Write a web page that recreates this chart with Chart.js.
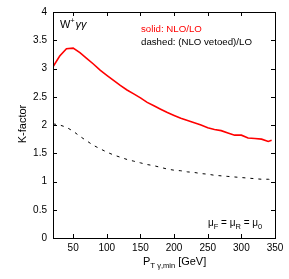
<!DOCTYPE html>
<html>
<head>
<meta charset="utf-8">
<script src="https://cdn.jsdelivr.net/npm/chart.js@4.4.1/dist/chart.umd.min.js"></script>
<style>
  html, body { margin: 0; padding: 0; background: #fff; }
  #wrap { width: 289px; height: 279px; }
</style>
</head>
<body>
<div id="wrap"><canvas id="kChart" width="289" height="279"></canvas></div>
<script>
var ptMin = [20, 30, 40, 50, 60, 70, 80, 90, 100, 110, 120, 130, 140, 150, 160, 170, 180,
  190, 200, 210, 220, 230, 240, 250, 260, 270, 280, 290, 300, 310, 320, 330, 340, 345];
var kSolid = [3.03, 3.22, 3.35, 3.36, 3.28, 3.18, 3.08, 2.97, 2.88, 2.79, 2.70, 2.62, 2.55, 2.48, 2.40, 2.34, 2.28,
  2.22, 2.17, 2.12, 2.08, 2.04, 2.00, 1.95, 1.92, 1.90, 1.86, 1.82, 1.82, 1.77, 1.76, 1.75, 1.71, 1.73];
var kDashed = [2.02, 2.00, 1.96, 1.89, 1.80, 1.72, 1.64, 1.58, 1.52, 1.47, 1.43, 1.39, 1.36, 1.33, 1.30, 1.28, 1.25,
  1.22, 1.20, 1.19, 1.17, 1.16, 1.14, 1.13, 1.11, 1.10, 1.09, 1.08, 1.07, 1.06, 1.05, 1.04, 1.04, 1.03];
var xTicks = [50, 100, 150, 200, 250, 300, 350];
var yTicks = [0, 0.5, 1, 1.5, 2, 2.5, 3, 3.5, 4];

var FONT = '"Liberation Sans", Arial, Helvetica, sans-serif';

function toPoints(xs, ys) {
  var pts = [];
  for (var i = 0; i < xs.length; i++) {
    pts.push({x: xs[i], y: ys[i]});
  }
  return pts;
}

// gnuplot style frame: box, inward ticks on all sides, text labels
var framePlugin = {
  id: 'frame',
  afterDraw: function(chart) {
    var ctx = chart.ctx;
    var a = chart.chartArea;
    var xs = chart.scales.x, ys = chart.scales.y;
    ctx.save();
    ctx.strokeStyle = '#000';
    ctx.lineWidth = 1;
    ctx.strokeRect(Math.round(a.left) + 0.5, Math.round(a.top) + 0.5,
      Math.round(a.right - a.left), Math.round(a.bottom - a.top));
    ctx.beginPath();
    xTicks.forEach(function(v) {
      var px = Math.round(xs.getPixelForValue(v)) + 0.5;
      ctx.moveTo(px, a.bottom); ctx.lineTo(px, a.bottom - 4);
      ctx.moveTo(px, a.top); ctx.lineTo(px, a.top + 4);
    });
    yTicks.forEach(function(v) {
      var py = Math.round(ys.getPixelForValue(v)) + 0.5;
      ctx.moveTo(a.left, py); ctx.lineTo(a.left + 4, py);
      ctx.moveTo(a.right, py); ctx.lineTo(a.right - 4, py);
    });
    ctx.stroke();

    ctx.fillStyle = '#000';
    ctx.textBaseline = 'alphabetic';
    ctx.textAlign = 'left';

    // process label
    ctx.font = '11px ' + FONT;
    ctx.fillText('W', 60, 28);
    var w = ctx.measureText('W').width;
    ctx.font = '7px ' + FONT;
    ctx.fillText('+', 60 + w, 23);
    ctx.font = 'italic 11px ' + FONT;
    ctx.fillText('\u03b3\u03b3', 60 + w + 5, 28);

    // legend text
    ctx.font = '9.7px ' + FONT;
    ctx.fillStyle = '#ff0000';
    ctx.fillText('solid: NLO/LO', 141, 32);
    ctx.fillStyle = '#000';
    ctx.fillText('dashed: (NLO vetoed)/LO', 141, 45);

    // scale label
    var x0 = 208, yb = 226;
    var parts = [['\u03bc', 'F', ' = '], ['\u03bc', 'R', ' = '], ['\u03bc', '0', '']];
    parts.forEach(function(p) {
      ctx.font = '10px ' + FONT;
      ctx.fillText(p[0], x0, yb);
      x0 += ctx.measureText(p[0]).width;
      ctx.font = '7.5px ' + FONT;
      ctx.fillText(p[1], x0, yb + 3);
      x0 += ctx.measureText(p[1]).width;
      ctx.font = '10px ' + FONT;
      ctx.fillText(p[2], x0, yb);
      x0 += ctx.measureText(p[2]).width;
    });

    // x axis title
    var xb = 265, xt = 143;
    ctx.font = '11px ' + FONT;
    ctx.fillText('P', xt, xb);
    xt += ctx.measureText('P').width;
    ctx.font = '8px ' + FONT;
    ctx.fillText('T', xt, xb + 3);
    xt += ctx.measureText('T').width + 2;
    ctx.font = '7.5px ' + FONT;
    ctx.fillText('\u03b3,min', xt, xb + 3);
    xt += ctx.measureText('\u03b3,min').width + 3;
    ctx.font = '11px ' + FONT;
    ctx.fillText('[GeV]', xt, xb);

    // y axis title
    ctx.translate(26, 124);
    ctx.rotate(-Math.PI / 2);
    ctx.textAlign = 'center';
    ctx.font = '11px ' + FONT;
    ctx.fillText('K-factor', 0, 0);
    ctx.restore();
  }
};

var ctx = document.getElementById('kChart');
var kChart = new Chart(ctx, {
  type: 'line',
  data: {
    datasets: [
      {
        label: 'solid: NLO/LO',
        data: toPoints(ptMin, kSolid),
        borderColor: '#ff0000',
        borderWidth: 1.6,
        pointRadius: 0,
        tension: 0,
        fill: false
      },
      {
        label: 'dashed: (NLO vetoed)/LO',
        data: toPoints(ptMin, kDashed),
        borderColor: '#000000',
        borderWidth: 1,
        borderDash: [3, 5],
        pointRadius: 0,
        tension: 0,
        fill: false
      }
    ]
  },
  options: {
    responsive: false,
    animation: false,
    devicePixelRatio: 1,
    layout: { padding: { left: 0, right: 14, top: 11, bottom: 0 } },
    plugins: {
      legend: { display: false },
      tooltip: { enabled: false }
    },
    scales: {
      x: {
        type: 'linear',
        min: 20,
        max: 350,
        grid: { display: false, drawTicks: false },
        border: { display: false },
        afterBuildTicks: function(scale) {
          scale.ticks = xTicks.map(function(v) { return {value: v}; });
        },
        afterFit: function(scale) { scale.height = 41; },
        ticks: {
          padding: 4,
          maxRotation: 0,
          color: '#000',
          font: { family: FONT, size: 10 },
          callback: function(v) { return String(v); }
        }
      },
      y: {
        min: 0,
        max: 4,
        grid: { display: false, drawTicks: false },
        border: { display: false },
        afterBuildTicks: function(scale) {
          scale.ticks = yTicks.map(function(v) { return {value: v}; });
        },
        afterFit: function(scale) { scale.width = 53; },
        ticks: {
          padding: 6,
          color: '#000',
          font: { family: FONT, size: 10 },
          callback: function(v) { return String(v); }
        }
      }
    }
  },
  plugins: [framePlugin]
});
</script>
</body>
</html>
